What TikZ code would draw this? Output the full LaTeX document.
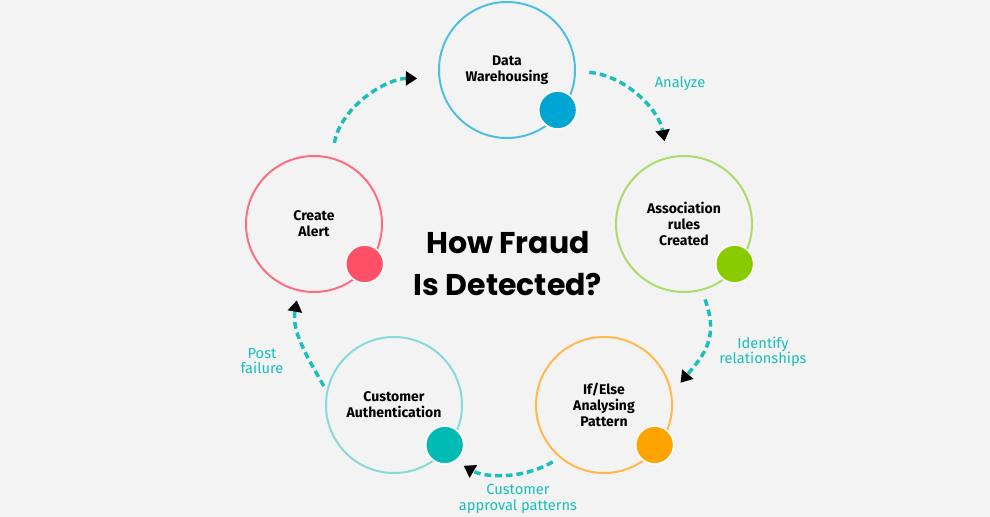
\documentclass[tikz,border=0pt]{standalone}
\usepackage{fontspec}
\setmainfont{Fira Sans}
\newfontfamily\titlefont{Poppins}
\usetikzlibrary{positioning,arrows.meta}

\definecolor{bgcol}{HTML}{F3F3F3}
\definecolor{blueln}{HTML}{4FBFE0}
\definecolor{bluedot}{HTML}{00A5D3}
\definecolor{greenln}{HTML}{A9DC6A}
\definecolor{greendot}{HTML}{8ACB00}
\definecolor{orangeln}{HTML}{FFB84D}
\definecolor{orangedot}{HTML}{FFA300}
\definecolor{tealln}{HTML}{86DAD8}
\definecolor{tealdot}{HTML}{00BAB4}
\definecolor{redln}{HTML}{FF6E80}
\definecolor{reddot}{HTML}{FF5068}
\definecolor{flow}{HTML}{19BFBC}

\begin{document}
\begin{tikzpicture}[x=0.75pt,y=-0.75pt,
    stage/.style={circle,draw=#1,line width=1.5pt,minimum size=102pt,inner sep=0pt,
      align=center,font=\bfseries\fontsize{10.5}{12}\selectfont},
    marker/.style={circle,fill=#1,draw=white,line width=1.2pt,minimum size=28.5pt,inner sep=0pt},
    flowarrow/.style={draw=flow,line width=2.6pt,dash pattern=on 5pt off 3pt,
      -{Triangle[length=8.5pt,width=10.5pt,color=black]}},
    flowlabel/.style={text=flow,align=center,font=\fontsize{11}{11.5}\selectfont}]

  % Sfondo
  \fill[bgcol] (0,0) rectangle (990,517);
  \useasboundingbox (0,0) rectangle (990,517);

  % Titolo al centro
  \node[align=center,font=\titlefont\bfseries\fontsize{22.5}{31.5}\selectfont] (title) at (508,264)
    {How Fraud\\Is Detected?};

  % Cerchi delle fasi
  \node[stage=blueln] (dw) at (507,70) {Data\\Warehousing};
  \node[stage=greenln] (ar) at (684,224) {Association\\rules\\Created};
  \node[stage=orangeln] (ie) at (604,405) {If/Else\\Analysing\\Pattern};
  \node[stage=tealln] (ca) at (394,405) {Customer\\Authentication};
  \node[stage=redln] (al) at (314,224) {Create\\Alert};

  % Pallini colorati
  \node[marker=bluedot] (dwdot) at ([xshift=38pt,yshift=-30pt]dw.center) {};
  \node[marker=greendot] (ardot) at ([xshift=38pt,yshift=-30pt]ar.center) {};
  \node[marker=orangedot] (iedot) at ([xshift=38pt,yshift=-30pt]ie.center) {};
  \node[marker=tealdot] (cadot) at ([xshift=38pt,yshift=-30pt]ca.center) {};
  \node[marker=reddot] (aldot) at ([xshift=38pt,yshift=-30pt]al.center) {};

  % Frecce tratteggiate
  \draw[flowarrow,shorten <=10pt,shorten >=12pt] (dw.-1) to[out=-5,in=100] (ar.104);
  \draw[flowarrow,shorten <=7pt,shorten >=10pt] (ar.-75) to[out=-70,in=50,looseness=1.2] (ie.10);
  \draw[flowarrow,shorten <=6pt,shorten >=18pt] (ie.230) to[out=-150,in=-30] (ca.-45);
  \draw[flowarrow,shorten <=4pt,shorten >=7pt] (ca.168) to[out=120,in=-100] (al.-103);
  \draw[flowarrow,shorten <=11pt,shorten >=16pt] (al.75) to[out=80,in=180] (dw.187);

  % Etichette
  \node[flowlabel] (lanalyze) at (680,84) {Analyze};
  \node[flowlabel] (lidentify) at (763,352) {Identify\\relationships};
  \node[flowlabel] (lapproval) at (518,499) {Customer\\approval patterns};
  \node[flowlabel] (lfailure) at (262,361) {Post\\failure};
\end{tikzpicture}
\end{document}
